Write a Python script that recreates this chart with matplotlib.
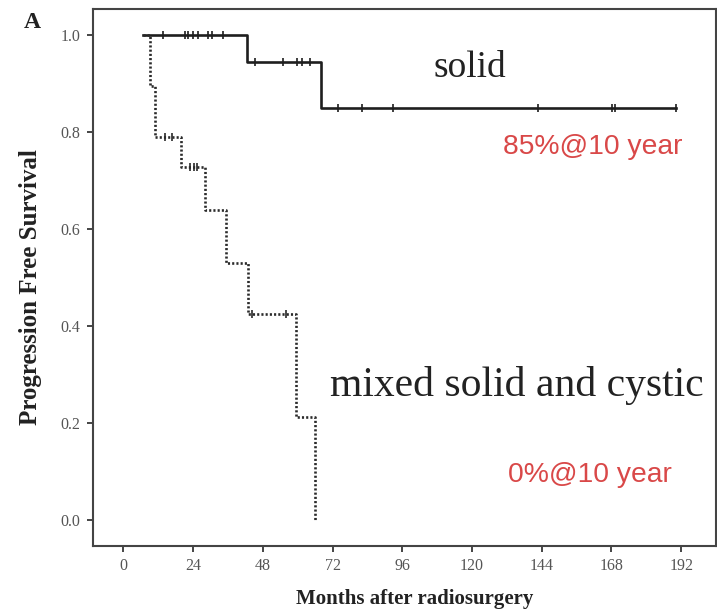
import numpy as np
import matplotlib
matplotlib.use("Agg")
import matplotlib.pyplot as plt

# --- data ---
solid_t = [6.7, 42.5, 68.0, 190.3]
solid_s = [1.0, 0.944, 0.85, 0.85]
solid_cens = [13.6, 21.2, 22.2, 23.9, 25.7, 29.1, 30.5, 34.3,
              45.3, 54.9, 59.7, 61.5, 64.2,
              73.9, 82.1, 92.8, 142.8, 168.2, 169.2, 190.3]

mixed_t = [6.7, 9.1, 10.8, 19.8, 28.1, 35.3, 42.9, 59.4, 66.0]
mixed_s = [1.0, 0.895, 0.79, 0.728, 0.64, 0.53, 0.425, 0.212, 0.0]
mixed_cens = [14.3, 16.7, 22.9, 24.3, 25.3, 44.2, 56.0]

x_ticks = [0, 24, 48, 72, 96, 120, 144, 168, 192]
y_ticks = [0.0, 0.2, 0.4, 0.6, 0.8, 1.0]
y_ticklabels = ["0.0", "0.2", "0.4", "0.6", "0.8", "1.0"]


def level_at(ts, ss, x):
    i = np.searchsorted(ts, x, side="right") - 1
    return np.asarray(ss)[i]


fig = plt.figure(figsize=(7.17, 6.10), dpi=100)
ax = fig.add_axes([93/717, 1-546/610, (716-93)/717, (546-9)/610])

line_col = "#1e1e1e"
ax.step(solid_t, solid_s, where="post", color=line_col, lw=1.9)
ax.plot(solid_cens, level_at(solid_t, solid_s, solid_cens), ls="none",
        marker="|", ms=6, mew=1.2, color=line_col)

ax.step(mixed_t, mixed_s, where="post", color="#2a2a2a", lw=1.9,
        linestyle=(0, (0.8, 0.8)))
ax.plot(mixed_cens, level_at(mixed_t, mixed_s, mixed_cens), ls="none",
        marker="|", ms=6, mew=1.2, color="#2a2a2a")

ax.set_xlim(-10.5, 204)
ax.set_ylim(-0.0536, 1.0536)
ax.set_xticks(x_ticks)
ax.set_xticklabels([str(v) for v in x_ticks])
ax.set_yticks(y_ticks)
ax.set_yticklabels(y_ticklabels)

serif = ["Liberation Serif", "DejaVu Serif"]
for lab in ax.get_xticklabels() + ax.get_yticklabels():
    lab.set_family(serif)
    lab.set_fontsize(11.5)
    lab.set_color("#555555")
ax.tick_params(direction="out", length=4, width=1.4, color="#444444", pad=5)
for sp in ax.spines.values():
    sp.set_linewidth(1.5)
    sp.set_color("#444444")

ax.set_xlabel("Months after radiosurgery", family=serif, fontweight="bold",
              fontsize=15, color="#222222", va="center")
ax.xaxis.set_label_coords(0.517, -0.099)
ax.set_ylabel("Progression Free Survival", family=serif, fontweight="bold",
              fontsize=18, color="#222222", va="center")
ax.yaxis.set_label_coords(-0.101, 0.482)

ax.text(119.3, 0.932, "solid", family=serif, fontsize=27, color="#222222",
        ha="center", va="center")
ax.text(71.1, 0.278, "mixed solid and cystic", family=serif, fontsize=30,
        color="#222222", ha="left", va="center")
red = "#d94848"
sans = ["Liberation Sans", "DejaVu Sans"]
ax.text(130.6, 0.769, "85%@10 year", family=sans, fontsize=20.3, color=red,
        ha="left", va="center")
ax.text(132.4, 0.093, "0%@10 year", family=sans, fontsize=20.3, color=red,
        ha="left", va="center")

fig.text(32/717, 1-22/610, "A", family=serif, fontweight="bold", fontsize=17,
         color="#222222", ha="center", va="center")

fig.savefig("out.png", dpi=100)
